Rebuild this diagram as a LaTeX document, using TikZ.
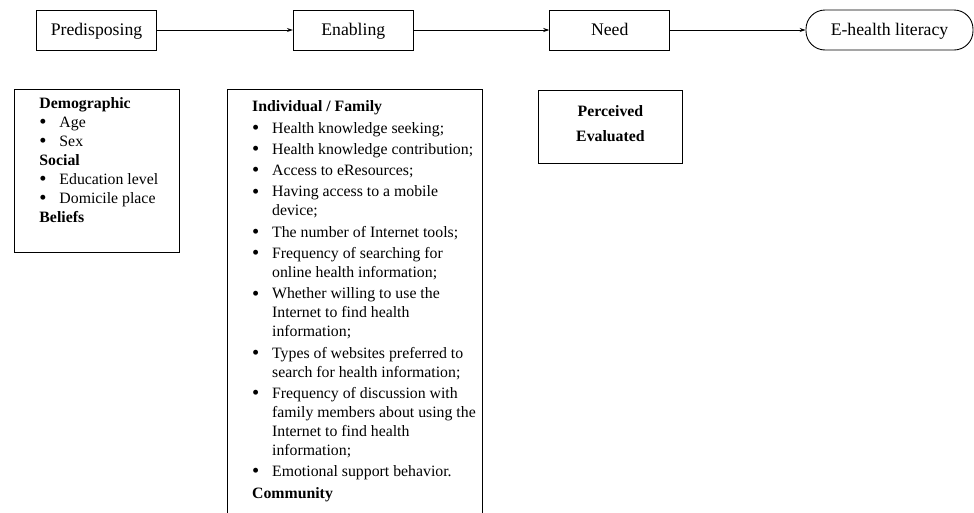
\documentclass[tikz,border=0pt]{standalone}
\usepackage{fontspec}
\setmainfont{Liberation Serif}
\usetikzlibrary{arrows.meta}
\newcommand{\bitem}[1]{\par\hangindent=20pt\hangafter=1\noindent\makebox[20pt][l]{\raisebox{-1.2pt}{\scalebox{1.3}{\textbullet}}}#1}
\begin{document}
\begin{tikzpicture}[x=1pt,y=-1pt,line width=0.9pt,every node/.style={inner sep=0pt},
  stage/.style={draw,minimum width=120pt,minimum height=40pt,text height=14pt,text depth=3pt,font=\fontsize{17.7}{20}\selectfont},
  listbox/.style={draw,anchor=north west,font=\fontsize{15.8}{19}\selectfont},
  flow/.style={line width=0.8pt,-{Stealth[length=6pt,width=4pt]}}]
\useasboundingbox (0,0) rectangle (974,512);
\node[stage] (pre) at (96.5,30) {Predisposing};
\node[stage] (ena) at (353.3,30) {Enabling};
\node[stage] (need) at (609.7,30) {Need};
\node[stage,minimum width=167pt,rounded corners=19pt] (ehl) at (889.5,30) {E-health literacy};
\draw[flow] (pre) -- (ena);
\draw[flow] (ena) -- (need);
\draw[flow] (need) -- (ehl);
\node[listbox] (demo) at (14,89) {\parbox[t][163pt][t]{165pt}{\parindent=0pt\rightskip=0pt plus 1fil\leftskip=25pt
  \vspace*{8pt}\textbf{Demographic}
  \bitem{Age}
  \bitem{Sex}
  \par\textbf{Social}
  \bitem{Education level}
  \bitem{Domicile place}
  \par\textbf{Beliefs}\par}};
\node[listbox] (indiv) at (227.3,89) {\parbox[t][440pt][t]{254.4pt}{\parindent=0pt\parskip=2.3pt\rightskip=0pt plus 1fil\leftskip=24.4pt
  \vspace*{9pt}\textbf{Individual / Family}
  \bitem{Health knowledge seeking;}
  \bitem{Health knowledge contribution;}
  \bitem{Access to eResources;}
  \bitem{Having access to a mobile\\device;}
  \bitem{The number of Internet tools;}
  \bitem{Frequency of searching for\\online health information;}
  \bitem{Whether willing to use the\\Internet to find health\\information;}
  \bitem{Types of websites preferred to\\search for health information;}
  \bitem{Frequency of discussion with\\family members about using the\\Internet to find health\\information;}
  \bitem{Emotional support behavior.}
  \par\textbf{Community}\par}};
\node[listbox,font=\fontsize{15.8}{25}\selectfont\bfseries] (perc) at (538.3,90) {\parbox[t][73.3pt][t]{143.4pt}{\centering
  \vspace*{15.5pt}Perceived\\Evaluated\par}};
\end{tikzpicture}
\end{document}
